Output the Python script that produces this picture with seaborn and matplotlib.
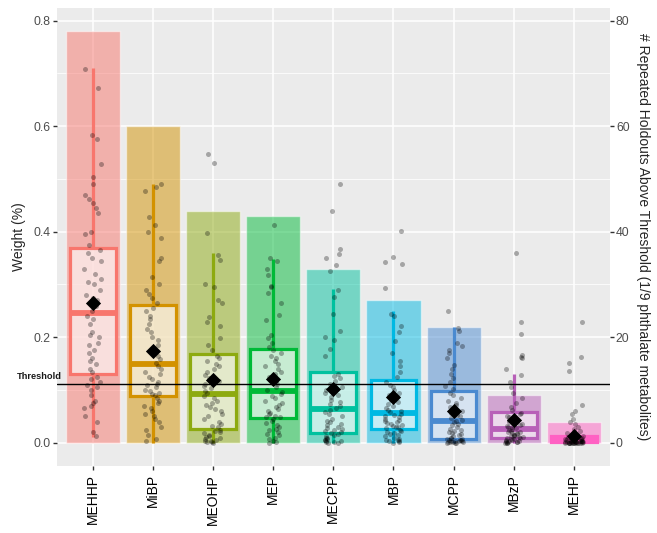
import numpy as np
import pandas as pd
import matplotlib
matplotlib.use("Agg")
import matplotlib.pyplot as plt
import seaborn as sns
from matplotlib.transforms import blended_transform_factory
from matplotlib.ticker import MultipleLocator

# ---------------- data ----------------
categories = ["MEHHP", "MiBP", "MEOHP", "MEP", "MECPP", "MBP", "MCPP", "MBzP", "MEHP"]
holdouts_above = [78, 60, 44, 43, 33, 27, 22, 9, 4]          # right axis (count)
q1 = [0.130, 0.0885, 0.027, 0.047, 0.019, 0.027, 0.0076, 0.010, 0.001]
medians = [0.246, 0.1485, 0.092, 0.0985, 0.064, 0.057, 0.041, 0.027, 0.006]
q3 = [0.370, 0.261, 0.169, 0.1775, 0.134, 0.119, 0.0986, 0.059, 0.012]
whisker_lo = [0.011, 0.0, 0.0, 0.0, 0.0, 0.0, 0.0, 0.0, 0.0]
whisker_hi = [0.711, 0.490, 0.359, 0.349, 0.291, 0.2496, 0.220, 0.1296, 0.026]
means = [0.265, 0.174, 0.119, 0.121, 0.102, 0.086, 0.060, 0.044, 0.013]
threshold = 1 / 9
colors = ["#F8766D", "#D39200", "#8DAA10", "#00BA38", "#00C19F",
          "#00B9E3", "#4A8AD0", "#B860B8", "#FF61C3"]

pts_MEHHP = [0.708, 0.672, 0.584, 0.575, 0.529, 0.504, 0.49, 0.47, 0.462, 0.455, 0.445, 0.435, 0.40, 0.395, 0.375,
             0.365, 0.36, 0.35, 0.345, 0.33, 0.32, 0.31, 0.305, 0.30, 0.29, 0.28, 0.275, 0.27, 0.26, 0.25,
             0.24, 0.235, 0.225, 0.21, 0.205, 0.20, 0.19, 0.185, 0.175, 0.17, 0.16, 0.155, 0.15, 0.14, 0.135,
             0.125, 0.12, 0.115, 0.11, 0.105, 0.10, 0.09, 0.08, 0.075, 0.07, 0.065, 0.05, 0.04, 0.02, 0.012]
pts_MiBP = [0.49, 0.485, 0.478, 0.428, 0.412, 0.40, 0.388, 0.35, 0.345, 0.315, 0.30, 0.29, 0.282, 0.275, 0.265,
            0.255, 0.25, 0.24, 0.235, 0.225, 0.215, 0.21, 0.20, 0.195, 0.185, 0.178, 0.17, 0.165, 0.158, 0.152,
            0.145, 0.14, 0.135, 0.13, 0.125, 0.12, 0.115, 0.112, 0.11, 0.105, 0.10, 0.098, 0.095, 0.092, 0.09,
            0.085, 0.08, 0.075, 0.07, 0.065, 0.06, 0.055, 0.05, 0.045, 0.04, 0.03, 0.025, 0.015, 0.008, 0.003]
pts_MEOHP = [0.548, 0.531, 0.398, 0.355, 0.346, 0.30, 0.295, 0.27, 0.265, 0.238, 0.228, 0.222, 0.198, 0.185, 0.175,
             0.165, 0.16, 0.155, 0.15, 0.145, 0.14, 0.135, 0.128, 0.122, 0.118, 0.112, 0.108, 0.104, 0.099, 0.095,
             0.089, 0.085, 0.08, 0.076, 0.072, 0.068, 0.064, 0.06, 0.055, 0.05, 0.045, 0.04, 0.036, 0.032, 0.029,
             0.025, 0.022, 0.02, 0.018, 0.015, 0.013, 0.011, 0.009, 0.007, 0.006, 0.004, 0.003, 0.002, 0.001, 0.0]
pts_MEP = [0.4125, 0.351, 0.345, 0.33, 0.318, 0.298, 0.295, 0.283, 0.265, 0.243, 0.232, 0.204, 0.198, 0.19, 0.182,
           0.175, 0.17, 0.165, 0.16, 0.155, 0.15, 0.145, 0.14, 0.135, 0.13, 0.125, 0.118, 0.112, 0.106, 0.10,
           0.096, 0.092, 0.088, 0.084, 0.08, 0.076, 0.072, 0.068, 0.064, 0.06, 0.057, 0.054, 0.051, 0.049, 0.048,
           0.045, 0.042, 0.038, 0.034, 0.03, 0.027, 0.024, 0.02, 0.017, 0.014, 0.01, 0.007, 0.004, 0.002, 0.0]
pts_MECPP = [0.49, 0.439, 0.367, 0.358, 0.35, 0.337, 0.325, 0.29, 0.276, 0.245, 0.212, 0.20, 0.194, 0.178, 0.165,
             0.13, 0.126, 0.122, 0.118, 0.112, 0.106, 0.10, 0.095, 0.09, 0.086, 0.082, 0.078, 0.074, 0.07, 0.066,
             0.062, 0.058, 0.054, 0.05, 0.046, 0.042, 0.039, 0.036, 0.033, 0.03, 0.028, 0.026, 0.024, 0.022, 0.02,
             0.018, 0.016, 0.014, 0.012, 0.01, 0.009, 0.008, 0.006, 0.005, 0.004, 0.003, 0.002, 0.001, 0.0, 0.0]
pts_MBP = [0.402, 0.352, 0.343, 0.338, 0.293, 0.245, 0.24, 0.221, 0.21, 0.193, 0.17, 0.155, 0.145, 0.135, 0.125,
           0.115, 0.11, 0.105, 0.10, 0.095, 0.09, 0.086, 0.082, 0.078, 0.074, 0.07, 0.066, 0.063, 0.06, 0.058,
           0.055, 0.052, 0.05, 0.048, 0.046, 0.044, 0.042, 0.04, 0.038, 0.036, 0.034, 0.032, 0.03, 0.029, 0.028,
           0.025, 0.022, 0.02, 0.018, 0.016, 0.014, 0.012, 0.01, 0.008, 0.006, 0.005, 0.004, 0.003, 0.002, 0.0]
pts_MCPP = [0.25, 0.218, 0.212, 0.19, 0.183, 0.175, 0.17, 0.16, 0.148, 0.14, 0.13, 0.122, 0.115, 0.108, 0.102,
            0.095, 0.09, 0.085, 0.08, 0.076, 0.072, 0.068, 0.064, 0.06, 0.056, 0.053, 0.05, 0.047, 0.044, 0.042,
            0.039, 0.036, 0.033, 0.03, 0.027, 0.024, 0.022, 0.02, 0.018, 0.016, 0.014, 0.012, 0.01, 0.009, 0.008,
            0.007, 0.006, 0.005, 0.005, 0.004, 0.004, 0.003, 0.003, 0.002, 0.002, 0.001, 0.001, 0.0, 0.0, 0.0]
pts_MBzP = [0.359, 0.229, 0.207, 0.166, 0.163, 0.16, 0.14, 0.128, 0.115, 0.105, 0.095, 0.085, 0.075, 0.068, 0.062,
            0.057, 0.054, 0.051, 0.048, 0.045, 0.043, 0.041, 0.039, 0.037, 0.035, 0.033, 0.031, 0.03, 0.029, 0.028,
            0.026, 0.024, 0.023, 0.021, 0.02, 0.019, 0.018, 0.016, 0.015, 0.014, 0.013, 0.012, 0.011, 0.011, 0.01,
            0.009, 0.008, 0.007, 0.006, 0.005, 0.004, 0.004, 0.003, 0.002, 0.002, 0.001, 0.001, 0.0, 0.0, 0.0]
pts_MEHP = [0.228, 0.163, 0.152, 0.136, 0.071, 0.06, 0.055, 0.045, 0.04, 0.035, 0.03, 0.026, 0.022, 0.018, 0.014,
            0.012, 0.011, 0.011, 0.01, 0.01, 0.009, 0.009, 0.008, 0.008, 0.007, 0.007, 0.007, 0.006, 0.006, 0.006,
            0.005, 0.005, 0.004, 0.004, 0.004, 0.003, 0.003, 0.003, 0.002, 0.002, 0.002, 0.002, 0.001, 0.001, 0.001,
            0.001, 0.001, 0.0, 0.0, 0.0, 0.0, 0.0, 0.0, 0.0, 0.0, 0.0, 0.0, 0.0, 0.0, 0.0]
points = [pts_MEHHP, pts_MiBP, pts_MEOHP, pts_MEP, pts_MECPP, pts_MBP, pts_MCPP, pts_MBzP, pts_MEHP]

# ---------------- figure ----------------
sns.set_style("white")
plt.rcParams["font.family"] = ["Liberation Sans", "DejaVu Sans"]

W, H = 657, 533
fig = plt.figure(figsize=(W / 100, H / 100), dpi=100)
pl, pr, pt, pb = 56.7, 610, 8, 466
ax = fig.add_axes([pl / W, 1 - pb / H, (pr - pl) / W, (pb - pt) / H])
ax.set_facecolor("#EBEBEB")
for s in ax.spines.values():
    s.set_visible(False)

scale = 0.01  # count -> weight axis
bar_df = pd.DataFrame({"cat": categories, "val": [h * scale for h in holdouts_above]})
sns.barplot(data=bar_df, x="cat", y="val", hue="cat", order=categories, hue_order=categories,
            palette=colors, saturation=1, alpha=0.5, width=0.9, errorbar=None,
            legend=False, ax=ax, zorder=2)

for i, c in enumerate(categories):
    st = [dict(med=medians[i], q1=q1[i], q3=q3[i], whislo=whisker_lo[i], whishi=whisker_hi[i])]
    ax.bxp(st, positions=[i], widths=0.76, showcaps=False, showfliers=False,
           patch_artist=True, manage_ticks=False,
           boxprops=dict(facecolor=(1, 1, 1, 0.6), edgecolor=colors[i], linewidth=2.3, zorder=3),
           whiskerprops=dict(color=colors[i], linewidth=2.3, zorder=3, solid_capstyle="butt"),
           medianprops=dict(color=colors[i], linewidth=4.2, zorder=3.1, solid_capstyle="butt"))

pt_df = pd.DataFrame({"cat": np.repeat(categories, [len(p) for p in points]),
                      "val": np.concatenate(points)})
np.random.seed(7)
sns.stripplot(data=pt_df, x="cat", y="val", order=categories, color="black", alpha=0.3,
              size=3.6, linewidth=0, jitter=0.15, ax=ax, zorder=4)

ax.axhline(threshold, color="black", linewidth=1.0, zorder=5)
ax.scatter(np.arange(len(categories)), means, marker="D", s=60, color="black", zorder=6,
           linewidths=0)

ax.set_xlim(-0.6, len(categories) - 0.4)
ax.set_ylim(-0.044, 0.824)

# grid
ax.set_axisbelow(True)
ax.set_yticks([0.0, 0.2, 0.4, 0.6, 0.8])
ax.set_yticklabels(["0.0", "0.2", "0.4", "0.6", "0.8"])
ax.yaxis.set_minor_locator(MultipleLocator(0.1))
ax.grid(True, which="major", color="white", linewidth=1.1)
ax.grid(True, which="minor", axis="y", color="white", linewidth=0.55)
ax.tick_params(axis="y", which="minor", length=0)
ax.tick_params(axis="y", which="major", length=2.75, width=1.0, color="#333333",
               labelsize=8.8, labelcolor="#4D4D4D", pad=1.5, left=True)
ax.tick_params(axis="x", length=2.75, width=1.0, color="#333333", labelsize=10,
               labelcolor="black", pad=3, bottom=True)
ax.set_xticks(range(len(categories)))
ax.set_xticklabels(categories, rotation=90)
ax.set_xlabel("")
ax.set_ylabel("")

sec = ax.secondary_yaxis("right", functions=(lambda y: y / scale, lambda y: y * scale))
sec.set_yticks([0, 20, 40, 60, 80])
sec.tick_params(length=2.75, width=1.0, color="#333333", labelsize=8.8, labelcolor="#4D4D4D", pad=1.5)
for s in sec.spines.values():
    s.set_visible(False)

fig.text(19 / W, 1 - 237 / H, "Weight (%)", rotation=90, ha="center", va="center", fontsize=10)
fig.text(643 / W, 1 - 237 / H, "# Repeated Holdouts Above Threshold (1/9 phthalate metabolites)",
         rotation=-90, ha="center", va="center", fontsize=10)

tr = blended_transform_factory(ax.transAxes, ax.transData)
ax.text(-0.0717, threshold + 0.014, "Threshold", transform=tr, ha="left", va="center",
        fontsize=6.7, fontweight="bold", color="#1a1a1a", clip_on=False)

fig.savefig("out.png", dpi=100)
